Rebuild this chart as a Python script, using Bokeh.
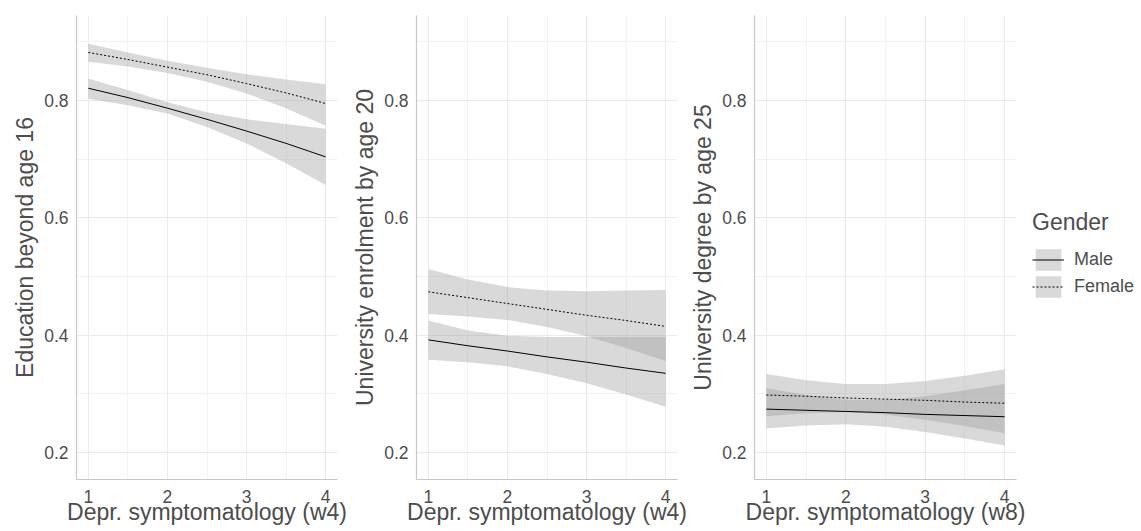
from bokeh.plotting import figure
from bokeh.layouts import row
from bokeh.models import Range1d, FixedTicker, Legend, LegendItem, ColumnDataSource
from bokeh.embed import file_html
from bokeh.resources import INLINE

# ---------------- data ----------------
depr = [1.0, 1.5, 2.0, 2.5, 3.0, 3.5, 4.0]

x_titles = ["Depr. symptomatology (w4)", "Depr. symptomatology (w4)", "Depr. symptomatology (w8)"]
y_titles = ["Education beyond age 16", "University enrolment by age 20", "University degree by age 25"]
legend_title = "Gender"
genders = ["Male", "Female"]

# Panel 1: Education beyond age 16
edu_male_fit = [0.821, 0.805, 0.787, 0.768, 0.748, 0.727, 0.704]
edu_male_lo = [0.803, 0.792, 0.778, 0.755, 0.727, 0.693, 0.656]
edu_male_hi = [0.837, 0.818, 0.797, 0.780, 0.768, 0.760, 0.752]
edu_female_fit = [0.882, 0.870, 0.857, 0.844, 0.829, 0.813, 0.795]
edu_female_lo = [0.866, 0.858, 0.847, 0.832, 0.812, 0.787, 0.757]
edu_female_hi = [0.897, 0.882, 0.868, 0.856, 0.845, 0.836, 0.828]

# Panel 2: University enrolment by age 20
enr_male_fit = [0.392, 0.382, 0.373, 0.363, 0.354, 0.344, 0.335]
enr_male_lo = [0.358, 0.354, 0.347, 0.334, 0.318, 0.299, 0.278]
enr_male_hi = [0.425, 0.408, 0.399, 0.397, 0.397, 0.397, 0.397]
enr_female_fit = [0.474, 0.464, 0.454, 0.444, 0.434, 0.425, 0.415]
enr_female_lo = [0.436, 0.432, 0.426, 0.414, 0.398, 0.378, 0.356]
enr_female_hi = [0.513, 0.495, 0.482, 0.476, 0.475, 0.476, 0.477]

# Panel 3: University degree by age 25
deg_male_fit = [0.274, 0.272, 0.270, 0.268, 0.265, 0.263, 0.261]
deg_male_lo = [0.241, 0.246, 0.248, 0.244, 0.235, 0.224, 0.212]
deg_male_hi = [0.310, 0.298, 0.290, 0.290, 0.296, 0.306, 0.317]
deg_female_fit = [0.298, 0.296, 0.293, 0.291, 0.289, 0.286, 0.284]
deg_female_lo = [0.262, 0.267, 0.269, 0.265, 0.256, 0.245, 0.233]
deg_female_hi = [0.334, 0.323, 0.317, 0.317, 0.322, 0.331, 0.342]

x_ticks = [1, 2, 3, 4]
x_minor = [1.5, 2.5, 3.5]
y_ticks = [0.2, 0.4, 0.6, 0.8]
y_minor = [0.3, 0.5, 0.7, 0.9]

panels = [
    (edu_male_fit, edu_male_lo, edu_male_hi, edu_female_fit, edu_female_lo, edu_female_hi),
    (enr_male_fit, enr_male_lo, enr_male_hi, enr_female_fit, enr_female_lo, enr_female_hi),
    (deg_male_fit, deg_male_lo, deg_male_hi, deg_female_fit, deg_female_lo, deg_female_hi),
]

FONT = "Liberation Sans"
TXT = "#4d4d4d"
BAND = "#999999"
BAND_ALPHA = 0.37
H = 531
widths = [349, 338, 343]
left_b = [76, 67, 67]
right_b = [12, 10, 14]

figs = []
for i, (mf, ml, mh, ff, fl, fh) in enumerate(panels):
    p = figure(width=widths[i], height=H, output_backend="svg", toolbar_location=None,
               x_range=Range1d(0.85, 4.15), y_range=Range1d(0.154, 0.945),
               min_border_left=left_b[i], min_border_right=right_b[i],
               min_border_top=15, min_border_bottom=52)
    p.outline_line_color = None
    p.background_fill_color = "white"
    p.border_fill_color = "white"

    src = ColumnDataSource(dict(x=depr, mf=mf, ml=ml, mh=mh, ff=ff, fl=fl, fh=fh))
    p.varea(x="x", y1="ml", y2="mh", source=src, fill_color=BAND, fill_alpha=BAND_ALPHA)
    p.varea(x="x", y1="fl", y2="fh", source=src, fill_color=BAND, fill_alpha=BAND_ALPHA)
    p.line(x="x", y="mf", source=src, line_color="black", line_width=1)
    p.line(x="x", y="ff", source=src, line_color="black", line_width=1, line_dash="2 2")

    p.xaxis.ticker = FixedTicker(ticks=x_ticks, minor_ticks=x_minor)
    p.yaxis.ticker = FixedTicker(ticks=y_ticks, minor_ticks=y_minor)
    p.xaxis.axis_label = x_titles[i]
    p.yaxis.axis_label = y_titles[i]
    for ax in (p.xaxis, p.yaxis):
        ax.axis_line_color = "#c8c8c8"
        ax.axis_line_width = 1.2
        ax.major_tick_line_color = None
        ax.minor_tick_line_color = None
        ax.major_tick_out = 0
        ax.major_tick_in = 0
        ax.minor_tick_out = 0
        ax.minor_tick_in = 0
        ax.major_label_text_font = FONT
        ax.major_label_text_font_size = "17.5px"
        ax.major_label_text_color = TXT
        ax.axis_label_text_font = FONT
        ax.axis_label_text_font_size = "23px"
        ax.axis_label_text_color = TXT
        ax.axis_label_text_font_style = "normal"
    p.xaxis.major_label_standoff = 10
    p.yaxis.major_label_standoff = 8
    p.xaxis.axis_label_standoff = -7
    p.yaxis.axis_label_standoff = 3

    p.grid.grid_line_color = "#ebebeb"
    p.grid.grid_line_width = 1
    p.grid.minor_grid_line_color = "#f0f0f0"
    p.grid.minor_grid_line_width = 0.9
    figs.append(p)

# legend panel (key glyphs use dummy data placed outside the visible range)
lg = figure(width=111, height=H, output_backend="svg", toolbar_location=None,
            x_range=Range1d(0, 1), y_range=Range1d(0, 1), min_border=0)
lg.outline_line_color = None
lg.axis.visible = False
lg.grid.visible = False
dummy = ColumnDataSource(dict(x=[0.2, 0.4], lo=[2.0, 2.0], hi=[3.0, 3.0], y=[2.5, 2.5]))
kb_m = lg.varea(x="x", y1="lo", y2="hi", source=dummy, fill_color=BAND, fill_alpha=BAND_ALPHA)
kl_m = lg.line(x="x", y="y", source=dummy, line_color="black", line_width=1)
kb_f = lg.varea(x="x", y1="lo", y2="hi", source=dummy, fill_color=BAND, fill_alpha=BAND_ALPHA)
kl_f = lg.line(x="x", y="y", source=dummy, line_color="black", line_width=1, line_dash="2 2")
legend = Legend(items=[LegendItem(label=genders[0], renderers=[kb_m, kl_m]),
                       LegendItem(label=genders[1], renderers=[kb_f, kl_f])],
                title=legend_title, location=(2, 179), orientation="vertical")
legend.margin = 0
legend.padding = 0
legend.border_line_color = None
legend.background_fill_alpha = 0
legend.glyph_width = 32
legend.glyph_height = 27
legend.spacing = 0
legend.label_standoff = 10
legend.label_text_font = FONT
legend.label_text_font_size = "18px"
legend.label_text_color = TXT
legend.title_text_font = FONT
legend.title_text_font_size = "23px"
legend.title_text_color = TXT
legend.title_text_font_style = "normal"
legend.title_standoff = 10
lg.add_layout(legend, "center")
figs.append(lg)

layout = row(*figs)
open("out.html", "w").write(file_html(layout, INLINE))
